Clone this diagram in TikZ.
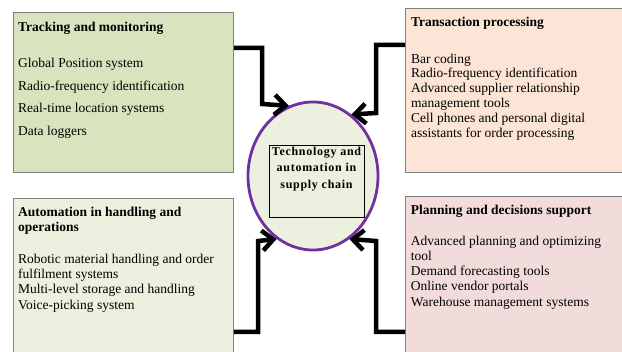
\documentclass[tikz,border=0pt]{standalone}
\usepackage{fontspec}
\setmainfont{Liberation Serif}
\usetikzlibrary{arrows.meta,positioning,calc,shapes.geometric}
\definecolor{TrackColor}{RGB}{215,228,189}
\definecolor{TransColor}{RGB}{252,228,214}
\definecolor{AutoColor}{RGB}{235,241,222}
\definecolor{PlanColor}{RGB}{242,220,219}
\definecolor{HubColor}{RGB}{235,241,222}
\definecolor{RimColor}{RGB}{112,48,160}
\definecolor{EdgeColor}{RGB}{128,128,128}

\begin{document}
\begin{tikzpicture}[x=1pt, y=-1pt, >={Straight Barb[length=11pt,width=20pt]},
    panel/.style={draw=EdgeColor, line width=0.8pt, anchor=north west, inner sep=0pt},
    paneltext/.style={anchor=north west, inner sep=0pt, align=left},
    flow/.style={->, line width=4.5pt}]
  \useasboundingbox (0,0) rectangle (622,352);
  \clip (0,0) rectangle (622,352);
  % four panels
  \node[panel, fill=TrackColor, minimum width=220pt, minimum height=160pt] (track) at (13,12) {};
  \node[panel, fill=TransColor, minimum width=222pt, minimum height=164pt] (trans) at (405,8) {};
  \node[panel, fill=AutoColor, minimum width=220pt, minimum height=200pt] (auto) at (13,198) {};
  \node[panel, fill=PlanColor, minimum width=222pt, minimum height=200pt] (plan) at (405,196) {};
  \node[paneltext, font=\fontsize{13.5}{22.7}\selectfont, below right=9.8pt and 5pt of track.north west] (tracktxt)
    {\textbf{Tracking and monitoring}\\[13.3pt]
     Global Position system\\ Radio-frequency identification\\ Real-time location systems\\ Data loggers};
  \node[paneltext, font=\fontsize{13.5}{14.8}\selectfont, below right=8.8pt and 6pt of trans.north west] (transtxt)
    {\textbf{Transaction processing}\\[21.9pt]
     Bar coding\\ Radio-frequency identification\\ Advanced supplier relationship\\ management tools\\
     Cell phones and personal digital\\ assistants for order processing};
  \node[paneltext, font=\fontsize{13.5}{15.3}\selectfont, below right=8.8pt and 5pt of auto.north west] (autotxt)
    {\textbf{Automation in handling and}\\ \textbf{operations}\\[16.3pt]
     Robotic material handling and order\\ fulfilment systems\\ Multi-level storage and handling\\ Voice-picking system};
  \node[paneltext, font=\fontsize{13.5}{15.2}\selectfont, below right=9.1pt and 5.7pt of plan.north west] (plantxt)
    {\textbf{Planning and decisions support}\\[15.5pt]
     Advanced planning and optimizing\\ tool\\ Demand forecasting tools\\ Online vendor portals\\ Warehouse management systems};
  % centre
  \node[ellipse, draw=RimColor, line width=2.8pt, fill=HubColor, minimum width=130pt, minimum height=148pt] (hub) at (313,176) {};
  \node[draw, line width=0.8pt, minimum width=95pt, minimum height=72pt] (hubbox) at (316.5,181) {};
  \node[align=center, inner sep=0pt, anchor=north, font=\fontsize{12}{16.7}\selectfont\bfseries\addfontfeatures{LetterSpace=6}, below=2pt of hubbox.north] (hubtxt)
    {Technology and\\ automation in\\ supply chain};
  % connectors
  \draw[flow] ($(track.north east)+(0,36)$) -| (262,104) -- (hub.109);
  \draw[flow] ($(trans.north west)+(0,37)$) -| (376,113) -- (hub.58);
  \draw[flow] ($(auto.north east)+(0,134)$) -| (258,241) -- (hub.240);
  \draw[flow] ($(plan.north west)+(0,136)$) -| (376,241) -- (hub.300);
\end{tikzpicture}
\end{document}
